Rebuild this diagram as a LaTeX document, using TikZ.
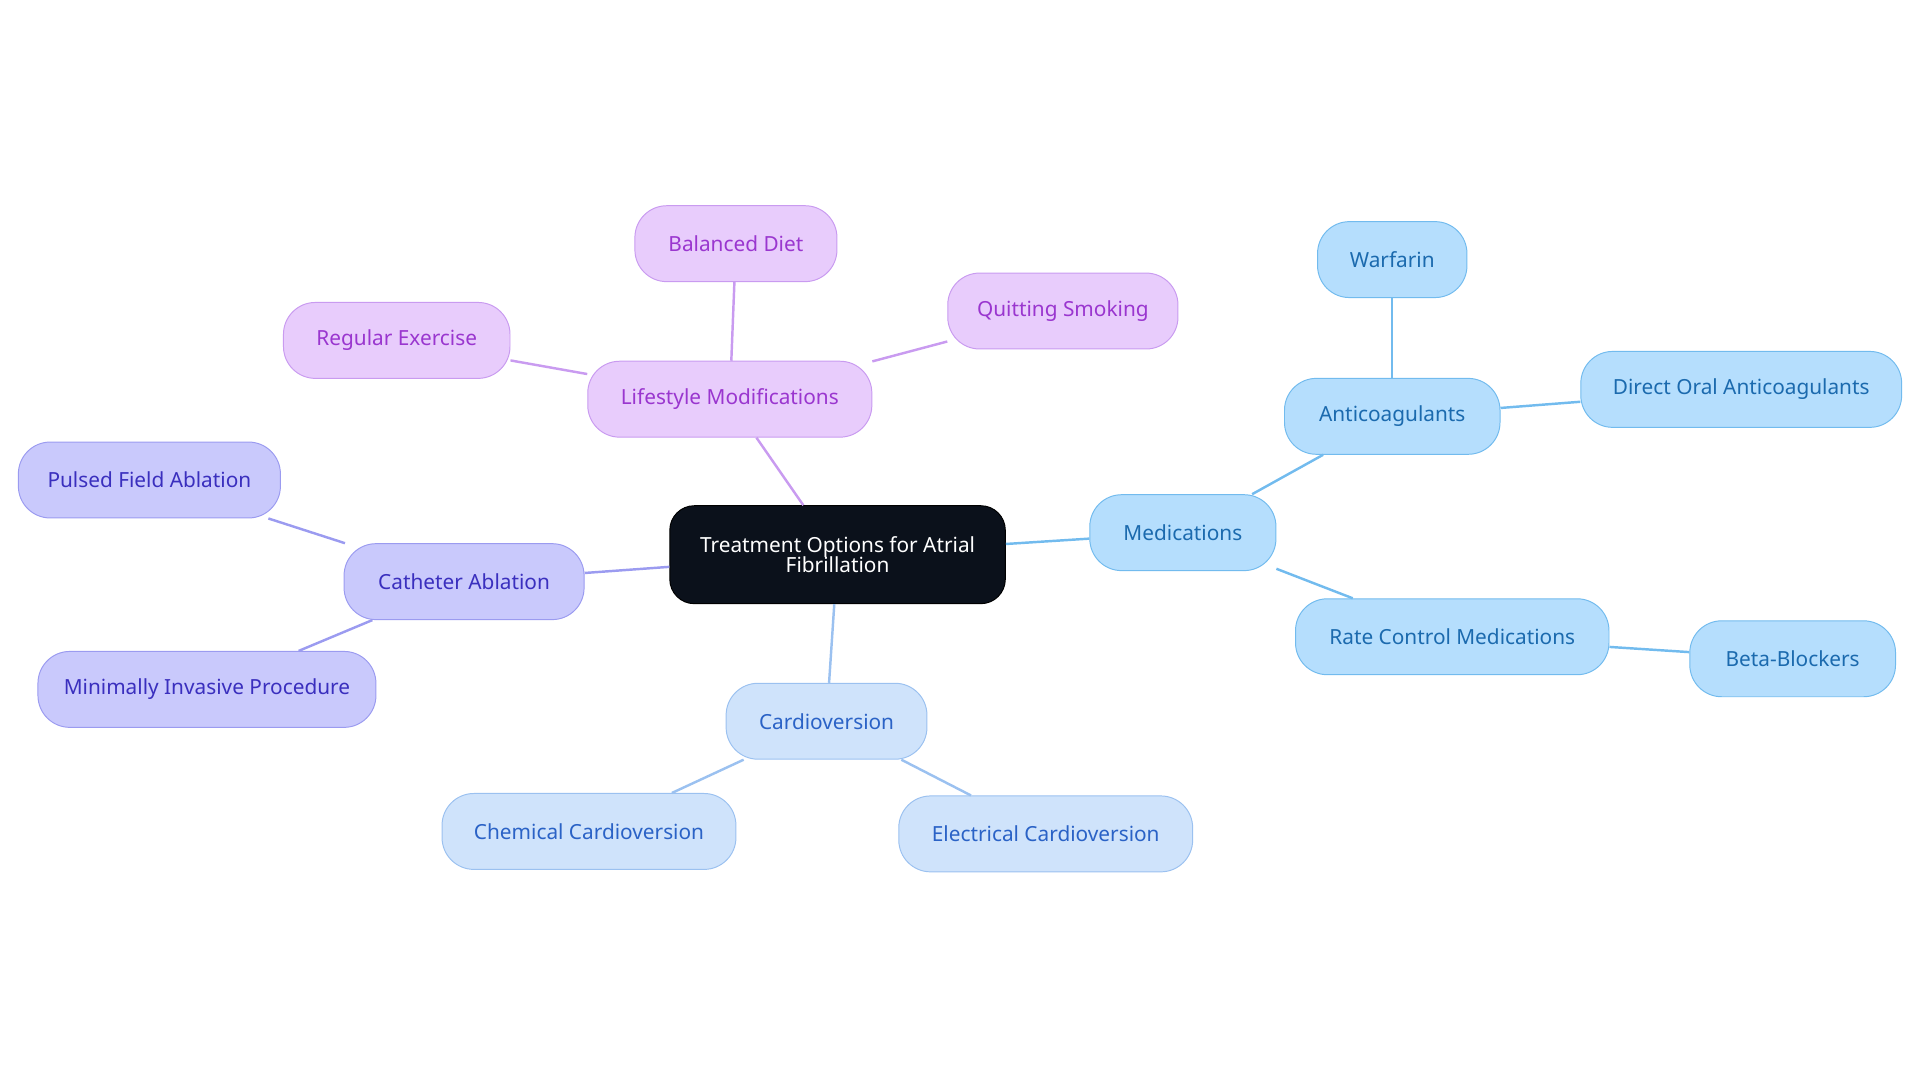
\documentclass[tikz,border=0pt]{standalone}
\usepackage{fontspec}
\setmainfont{Noto Sans}
\definecolor{bF}{HTML}{B5DEFD}\definecolor{bD}{HTML}{72BBEE}\definecolor{bT}{HTML}{1B6AAE}
\definecolor{cF}{HTML}{CFE3FB}\definecolor{cD}{HTML}{9BC1F0}\definecolor{cT}{HTML}{2A62C6}
\definecolor{pF}{HTML}{C9C9FC}\definecolor{pD}{HTML}{9B9BF0}\definecolor{pT}{HTML}{3A2FBE}
\definecolor{lF}{HTML}{E8CCFC}\definecolor{lD}{HTML}{C99BF0}\definecolor{lT}{HTML}{9A36CF}
\begin{document}
\begin{tikzpicture}[x=1pt,y=-1pt,
 box/.style={rounded corners=26pt,minimum height=62pt,font=\fontsize{17}{20}\selectfont,line width=0.8pt,inner sep=0pt},
 bb/.style={box,fill=bF,draw=bD,text=bT},
 cb/.style={box,fill=cF,draw=cD,text=cT},
 pb/.style={box,fill=pF,draw=pD,text=pT},
 lb/.style={box,fill=lF,draw=lD,text=lT},
 e/.style={line width=2pt}]
\useasboundingbox (0,0) rectangle (1568,884);
\node[box,fill=black!90!blue!60!black,draw=black,text=white,minimum width=274pt,minimum height=80pt,align=center,rounded corners=20pt,fill={rgb,255:red,11;green,17;blue,27}] (root) at (684,453) {Treatment Options for Atrial\\[-3pt]Fibrillation};
\node[bb,minimum width=152pt] (med) at (966,435) {Medications};
\node[bb,minimum width=176pt] (anti) at (1137,340) {Anticoagulants};
\node[bb,minimum width=122pt] (war) at (1137,212) {Warfarin};
\node[bb,minimum width=262pt] (doac) at (1422,318) {Direct Oral Anticoagulants};
\node[bb,minimum width=256pt] (rate) at (1186,520) {Rate Control Medications};
\node[bb,minimum width=168pt] (beta) at (1464,538) {Beta-Blockers};
\node[cb,minimum width=164pt] (card) at (675,589) {Cardioversion};
\node[cb,minimum width=240pt] (chem) at (481,679) {Chemical Cardioversion};
\node[cb,minimum width=240pt] (elec) at (854,681) {Electrical Cardioversion};
\node[pb,minimum width=196pt] (cath) at (379,475) {Catheter Ablation};
\node[pb,minimum width=214pt] (puls) at (122,392) {Pulsed Field Ablation};
\node[pb,minimum width=276pt] (mini) at (169,563) {Minimally Invasive Procedure};
\node[lb,minimum width=232pt] (life) at (596,326) {Lifestyle Modifications};
\node[lb,minimum width=165pt] (diet) at (601,199) {Balanced Diet};
\node[lb,minimum width=185pt] (ex) at (324,278) {Regular Exercise};
\node[lb,minimum width=188pt] (smoke) at (868,254) {Quitting Smoking};
\begin{scope}[on background layer/.style={}]
\end{scope}
\draw[e,bD] (root) -- (med); \draw[e,bD] (med) -- (anti); \draw[e,bD] (anti) -- (war);
\draw[e,bD] (anti) -- (doac); \draw[e,bD] (med) -- (rate); \draw[e,bD] (rate) -- (beta);
\draw[e,cD] (root) -- (card); \draw[e,cD] (card) -- (chem); \draw[e,cD] (card) -- (elec);
\draw[e,pD] (root) -- (cath); \draw[e,pD] (cath) -- (puls); \draw[e,pD] (cath) -- (mini);
\draw[e,lD] (root) -- (life); \draw[e,lD] (life) -- (diet); \draw[e,lD] (life) -- (ex); \draw[e,lD] (life) -- (smoke);
\end{tikzpicture}
\end{document}
